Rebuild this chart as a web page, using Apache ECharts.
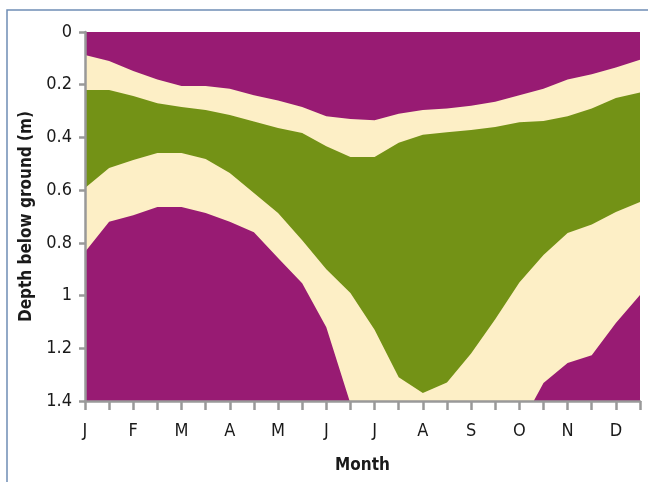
<!DOCTYPE html>
<html>
<head>
<meta charset="utf-8">
<script src="https://cdn.jsdelivr.net/npm/echarts@6/dist/echarts.min.js"></script>
<style>
html,body{margin:0;padding:0;background:#fff;}
#chart{width:648px;height:482px;}
</style>
</head>
<body>
<div id="chart"></div>
<script>
// Month initials shown at every other half-month tick
var monthLabels = ['J','F','M','A','M','J','J','A','S','O','N','D'];
// 24 half-month positions
var categories = [];
for (var m = 0; m < 12; m++) { categories.push(monthLabels[m]); categories.push(''); }

// Depths (m) of band boundaries at each half-month position
var topPurpleToCream = [0.087,0.11,0.148,0.18,0.205,0.205,0.215,0.24,0.26,0.285,0.32,0.33,0.335,0.31,0.296,0.29,0.28,0.265,0.24,0.215,0.18,0.16,0.135,0.105];
var creamToGreen     = [0.22,0.22,0.243,0.27,0.285,0.296,0.315,0.34,0.364,0.383,0.433,0.474,0.474,0.42,0.39,0.38,0.372,0.36,0.342,0.338,0.32,0.29,0.25,0.23];
var greenToCream     = [0.592,0.516,0.486,0.459,0.459,0.482,0.535,0.611,0.687,0.79,0.9,0.99,1.13,1.31,1.37,1.33,1.22,1.09,0.95,0.846,0.763,0.73,0.683,0.645];
var creamToPurple    = [0.835,0.72,0.695,0.664,0.664,0.687,0.72,0.76,0.857,0.953,1.12,1.41,1.4,1.4,1.4,1.4,1.4,1.4,1.5,1.332,1.256,1.226,1.104,0.998];

var PURPLE = '#981b73', CREAM = '#fdefc6', GREEN = '#739216';
var FONT = "'Liberation Sans Narrow','DejaVu Sans Condensed',sans-serif";

function band(data, color) {
  return {
    type: 'line', data: data, symbol: 'none', smooth: false, clip: true,
    lineStyle: { width: 0 },
    areaStyle: { color: color, opacity: 1, origin: 'end' },
    silent: true
  };
}

var chart = echarts.init(document.getElementById('chart'), null, { renderer: 'canvas' });
chart.setOption({
  animation: false,
  backgroundColor: '#ffffff',
  graphic: [{
    type: 'rect', silent: true, z: 100,
    shape: { x: 7, y: 10, width: 700, height: 600 },
    style: { fill: 'none', stroke: '#6f8db5', lineWidth: 1.5 }
  }],
  grid: {
    left: 85, top: 32, right: 8, bottom: 81,
    show: true, borderWidth: 0, backgroundColor: PURPLE
  },
  xAxis: {
    type: 'category', data: categories, boundaryGap: false, z: 10, position: 'bottom',
    name: 'Month', nameLocation: 'middle', nameGap: 56,
    nameTextStyle: { fontFamily: FONT, fontWeight: 'bold', fontSize: 17, color: '#1a1a1a' },
    axisLine: { onZero: false, lineStyle: { color: '#999999', width: 2.5 } },
    axisTick: { show: true, interval: 0, length: 9, lineStyle: { color: '#999999', width: 2.5 } },
    axisLabel: { interval: 0, margin: 21, fontFamily: FONT, fontSize: 18, color: '#1a1a1a' },
    splitLine: { show: false }
  },
  yAxis: {
    type: 'value', inverse: true, min: 0, max: 1.4, interval: 0.2, z: 10,
    name: 'Depth below ground (m)', nameLocation: 'middle', nameGap: 50,
    nameTextStyle: { fontFamily: FONT, fontWeight: 'bold', fontSize: 17, color: '#1a1a1a' },
    axisLine: { show: true, onZero: false, lineStyle: { color: '#999999', width: 2.5 } },
    axisTick: { show: true, length: 6, lineStyle: { color: '#999999', width: 2.5 } },
    axisLabel: { margin: 13, fontFamily: FONT, fontSize: 18, color: '#1a1a1a' },
    splitLine: { show: false }
  },
  series: [
    band(topPurpleToCream, CREAM),
    band(creamToGreen, GREEN),
    band(greenToCream, CREAM),
    band(creamToPurple, PURPLE)
  ]
});
</script>
</body>
</html>
